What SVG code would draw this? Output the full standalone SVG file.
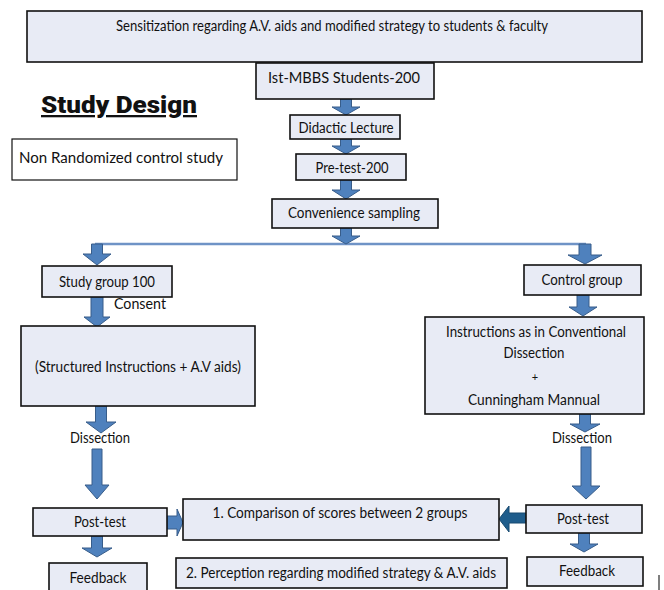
<svg xmlns="http://www.w3.org/2000/svg" width="664" height="590" viewBox="0 0 664 590">
<defs>
<style>
.box{fill:#e8ebf5;stroke:#111;stroke-width:1.6}
.plain{fill:#fff;stroke:#111;stroke-width:1.2}
.t{font-family:Lato,"Liberation Sans",sans-serif;font-size:14.5px;fill:#111;text-anchor:middle}
.arr{fill:#4f81bd;stroke:#385d8a;stroke-width:1}
.arrd{fill:#1f5d8c;stroke:#184a70;stroke-width:1}
.line{fill:none;stroke:#6f93c6;stroke-width:2.5}
</style>
</defs>
<rect width="664" height="590" fill="#fff"/>

<g id="title">
<text x="41" y="113" font-family="Roboto,'DejaVu Sans',sans-serif" font-weight="900" font-size="23" fill="#111" text-decoration="underline" textLength="156" lengthAdjust="spacingAndGlyphs">Study Design</text>
</g>
<g id="note">
<rect class="plain" x="12" y="139" width="225" height="41"/>
<text class="t" x="19" y="163" style="text-anchor:start;font-size:16px" textLength="204" lengthAdjust="spacingAndGlyphs">Non Randomized control study</text>
</g>

<g id="connectors">
<path class="line" d="M95,244 H586"/>
<path class="arr" d="M340.5,99 H351.5 V107 H360 L346,115 L332,107 H340.5 Z"/>
<path class="arr" d="M340.5,139 H351.5 V146 H360 L346,154 L332,146 H340.5 Z"/>
<path class="arr" d="M340.5,180 H351.5 V190 H360 L346,199 L332,190 H340.5 Z"/>
<path class="arr" d="M340.5,228 H351.5 V236 H360 L346,244 L332,236 H340.5 Z"/>
<path class="arr" d="M91.5,244 H102.5 V254 H111 L97,265 L83,254 H91.5 Z"/>
<path class="arr" d="M91,297 H103 V317 H110 L97,327 L84,317 H91 Z"/>
<path class="arr" d="M95.5,406 H106.5 V422 H116 L101,433 L86,422 H95.5 Z"/>
<path class="arr" d="M92,449 H102 V485 H109 L97,499 L85,485 H92 Z"/>
<path class="arr" d="M91.5,536 H102.5 V548 H112 L97,557 L82,548 H91.5 Z"/>
<path class="arr" d="M579,244 H591 V255 H602 L585,264 L568,255 H579 Z"/>
<path class="arr" d="M577,295 H589 V307 H597 L583,316 L569,307 H577 Z"/>
<path class="arr" d="M579.5,414 H590.5 V424 H600 L585,432 L570,424 H579.5 Z"/>
<path class="arr" d="M581,447 H591 V486 H600 L586,499 L572,486 H581 Z"/>
<path class="arr" d="M578.5,533 H589.5 V544 H598 L584,552 L570,544 H578.5 Z"/>
<path class="arr" d="M167,516 H177 V509 L183,522.5 L177,536 V529 H167 Z"/>
<path class="arrd" d="M527,513 H509 V506 L499,519 L509,532 V523 H527 Z"/>
</g>

<g id="sensitization">
<rect class="box" x="27" y="11" width="615" height="51"/>
<text class="t" x="332" y="31" textLength="432" lengthAdjust="spacingAndGlyphs">Sensitization regarding A.V. aids and modified strategy to students &amp; faculty</text>
</g>
<g id="students">
<rect class="box" x="256" y="63" width="178" height="36"/>
<text class="t" x="344" y="83" textLength="152" lengthAdjust="spacingAndGlyphs">Ist-MBBS Students-200</text>
</g>
<g id="lecture">
<rect class="box" x="290" y="115" width="110" height="24"/>
<text class="t" x="346" y="133" textLength="95" lengthAdjust="spacingAndGlyphs">Didactic Lecture</text>
</g>
<g id="pretest">
<rect class="box" x="296" y="154" width="110" height="26"/>
<text class="t" x="352" y="173" textLength="73" lengthAdjust="spacingAndGlyphs">Pre-test-200</text>
</g>
<g id="sampling">
<rect class="box" x="272" y="199" width="166" height="29"/>
<text class="t" x="354" y="218" textLength="132" lengthAdjust="spacingAndGlyphs">Convenience sampling</text>
</g>

<g id="study-group">
<rect class="box" x="42" y="266" width="130" height="31"/>
<text class="t" x="107" y="287" textLength="96" lengthAdjust="spacingAndGlyphs">Study group 100</text>
</g>
<g id="consent">
<text class="t" x="114" y="309" style="text-anchor:start" textLength="52" lengthAdjust="spacingAndGlyphs">Consent</text>
</g>
<g id="structured">
<rect class="box" x="21" y="326" width="234" height="80"/>
<text class="t" x="138" y="372" textLength="206" lengthAdjust="spacingAndGlyphs">(Structured Instructions + A.V aids)</text>
</g>
<g id="dissection-left">
<text class="t" x="100" y="443" textLength="60" lengthAdjust="spacingAndGlyphs">Dissection</text>
</g>
<g id="posttest-left">
<rect class="box" x="33" y="508" width="134" height="28"/>
<text class="t" x="100" y="527" textLength="52" lengthAdjust="spacingAndGlyphs">Post-test</text>
</g>
<g id="feedback-left">
<rect class="box" x="49" y="563" width="98" height="32"/>
<text class="t" x="98" y="583" textLength="57" lengthAdjust="spacingAndGlyphs">Feedback</text>
</g>

<g id="control-group">
<rect class="box" x="524" y="265" width="117" height="30"/>
<text class="t" x="582" y="285" textLength="81" lengthAdjust="spacingAndGlyphs">Control group</text>
</g>
<g id="conventional">
<rect class="box" x="425" y="317" width="219" height="97"/>
<text class="t" x="536" y="337" textLength="180" lengthAdjust="spacingAndGlyphs">Instructions as in Conventional</text>
<text class="t" x="534" y="358" textLength="61" lengthAdjust="spacingAndGlyphs">Dissection</text>
<text class="t" x="535" y="381" style="font-size:11px">+</text>
<text class="t" x="534" y="405" textLength="132" lengthAdjust="spacingAndGlyphs">Cunningham Mannual</text>
</g>
<g id="dissection-right">
<text class="t" x="582" y="443" textLength="60" lengthAdjust="spacingAndGlyphs">Dissection</text>
</g>
<g id="posttest-right">
<rect class="box" x="526" y="505" width="116" height="28"/>
<text class="t" x="583" y="524" textLength="52" lengthAdjust="spacingAndGlyphs">Post-test</text>
</g>
<g id="feedback-right">
<rect class="box" x="527" y="557" width="116" height="29"/>
<text class="t" x="587" y="576" textLength="56" lengthAdjust="spacingAndGlyphs">Feedback</text>
</g>

<g id="comparison">
<rect class="box" x="183" y="499" width="316" height="41"/>
<text class="t" x="340" y="518" textLength="255" lengthAdjust="spacingAndGlyphs">1. Comparison of scores between 2 groups</text>
</g>
<g id="perception">
<rect class="box" x="176" y="558" width="331" height="30"/>
<text class="t" x="341" y="578" textLength="310" lengthAdjust="spacingAndGlyphs">2. Perception regarding modified strategy &amp; A.V. aids</text>
</g>
<g id="edge-mark">
<path d="M659,575 V590" stroke="#555" stroke-width="1.5"/>
</g>
</svg>
